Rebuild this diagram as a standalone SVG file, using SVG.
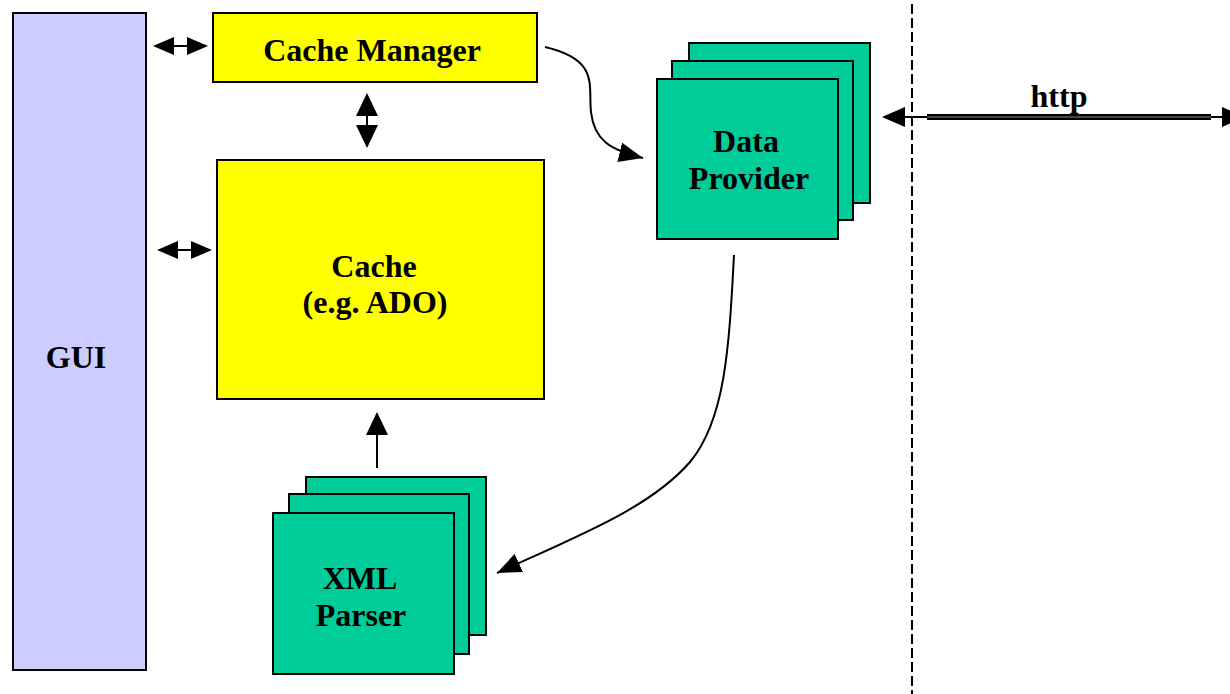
<svg xmlns="http://www.w3.org/2000/svg" width="1230" height="694" viewBox="0 0 1230 694">
  <style>
    .box { stroke: #000; stroke-width: 2; }
    .gui { fill: #ccccff; }
    .yel { fill: #ffff00; }
    .teal { fill: #00cc99; }
    .lbl { font-family: "Liberation Serif", "Times New Roman", serif; font-weight: bold; font-size: 32px; fill: #000; text-anchor: middle; }
    .wire { fill: none; stroke: #000; stroke-width: 2; }
    .head { fill: #000; }
  </style>
  <defs>
    <marker id="arrBig" viewBox="0 0 24 20" refX="24" refY="10" markerWidth="24" markerHeight="20" markerUnits="userSpaceOnUse" orient="auto">
      <path d="M0,0 L24,10 L0,20 Z" fill="#000"/>
    </marker>
  </defs>

  <!-- separator -->
  <line x1="912" y1="4" x2="912" y2="694" stroke="#000" stroke-width="2" stroke-dasharray="10 4"/>

  <g id="gui">
    <rect class="box gui" x="13" y="13" width="133" height="657"/>
    <text class="lbl" x="76" y="368">GUI</text>
  </g>

  <g id="cache-manager">
    <rect class="box yel" x="213" y="13" width="324" height="69"/>
    <text class="lbl" x="372" y="61">Cache Manager</text>
  </g>

  <g id="cache">
    <rect class="box yel" x="217" y="160" width="327" height="239"/>
    <text class="lbl" x="374" y="277">Cache</text>
    <text class="lbl" x="375" y="313">(e.g. ADO)</text>
  </g>

  <g id="data-provider">
    <rect class="box teal" x="689" y="43" width="181" height="160"/>
    <rect class="box teal" x="672" y="61" width="181" height="159"/>
    <rect class="box teal" x="657" y="79" width="181" height="160"/>
    <text class="lbl" x="746" y="152">Data</text>
    <text class="lbl" x="749" y="189">Provider</text>
  </g>

  <g id="xml-parser">
    <rect class="box teal" x="306" y="477" width="180" height="158"/>
    <rect class="box teal" x="289" y="494" width="180" height="160"/>
    <rect class="box teal" x="273" y="513" width="181" height="161"/>
    <text class="lbl" x="360" y="589">XML</text>
    <text class="lbl" x="361" y="626">Parser</text>
  </g>

  <g id="connectors">
    <!-- GUI <-> Cache Manager -->
    <line x1="168" y1="46" x2="192" y2="46" stroke="#000" stroke-width="2"/>
    <path class="head" d="M153,46 L174,37 L174,55 Z"/>
    <path class="head" d="M208,46 L187,37 L187,55 Z"/>

    <!-- GUI <-> Cache -->
    <line x1="172" y1="250" x2="196" y2="250" stroke="#000" stroke-width="2"/>
    <path class="head" d="M157,250 L178,241 L178,259 Z"/>
    <path class="head" d="M212,250 L191,241 L191,259 Z"/>

    <!-- Cache Manager <-> Cache -->
    <line x1="367" y1="112" x2="367" y2="130" stroke="#000" stroke-width="2"/>
    <path class="head" d="M367,93 L356,116 L378,116 Z"/>
    <path class="head" d="M367,148 L356,125 L378,125 Z"/>

    <!-- Cache Manager -> Data Provider -->
    <path class="wire" d="M545,47 C600,60 588,85 591,112 C594,140 610,150 643,158" marker-end="url(#arrBig)"/>

    <!-- Data Provider -> XML Parser -->
    <path class="wire" d="M734,255 C729,350 725,420 690,462 C650,508 580,535 497,573" marker-end="url(#arrBig)"/>

    <!-- XML Parser -> Cache -->
    <line x1="377" y1="468" x2="377" y2="430" stroke="#000" stroke-width="2"/>
    <path class="head" d="M377,412 L366,435 L388,435 Z"/>

    <!-- http -->
    <line x1="895" y1="117" x2="1225" y2="117" stroke="#000" stroke-width="2"/>
    <line x1="927" y1="117" x2="1211" y2="117" stroke="#000" stroke-width="6"/>
    <line x1="927" y1="117" x2="1211" y2="117" stroke="#888" stroke-width="1"/>
    <path class="head" d="M882,117 L905,107 L905,127 Z"/>
    <path class="head" d="M1245,117 L1222,107 L1222,127 Z"/>
    <text class="lbl" x="1059" y="107">http</text>
  </g>
</svg>
